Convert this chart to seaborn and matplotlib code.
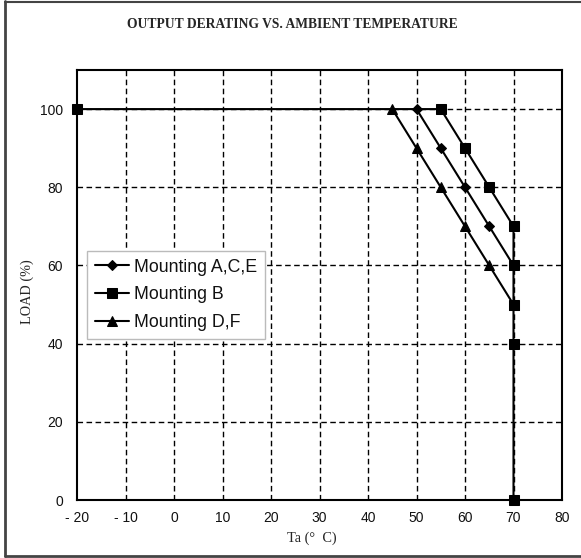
import matplotlib
matplotlib.use("Agg")
import matplotlib.pyplot as plt
import seaborn as sns
import pandas as pd
from matplotlib.lines import Line2D

# Data
ace_x = [50, 55, 60, 65, 70]
ace_y = [100, 90, 80, 70, 60]
b_x = [-20, 55, 60, 65, 70, 70, 70, 70, 70]
b_y = [100, 100, 90, 80, 70, 60, 50, 40, 0]
df_x = [45, 50, 55, 60, 65, 70]
df_y = [100, 90, 80, 70, 60, 50]
series_names = ["Mounting A,C,E", "Mounting B", "Mounting D,F"]
x_ticks = [-20, -10, 0, 10, 20, 30, 40, 50, 60, 70, 80]
x_tick_labels = ["- 20", "- 10", "0", "10", "20", "30", "40", "50", "60", "70", "80"]
y_ticks = [0, 20, 40, 60, 80, 100]
y_tick_labels = ["0", "20", "40", "60", "80", "100"]

sns.set_theme(style="white")
plt.rcParams['font.family'] = ['Liberation Sans', 'DejaVu Sans']

fig = plt.figure(figsize=(5.81, 5.58), dpi=100)
ax = fig.add_axes([77/581, 1-500/558, (562-77)/581, (500-70)/558])

series = [
    (ace_x, ace_y, series_names[0], "D", 5.5),
    (b_x, b_y, series_names[1], "s", 7.5),
    (df_x, df_y, series_names[2], "^", 7.5),
]
for xs, ys, name, mk, ms in series:
    d = pd.DataFrame({"x": xs, "y": ys})
    sns.lineplot(data=d, x="x", y="y", sort=False, estimator=None, ax=ax,
                 color="black", linewidth=1.5, marker=mk, markersize=ms,
                 markeredgecolor="black", markerfacecolor="black", label=name,
                 clip_on=False, zorder=3)

ax.set_xlim(-20, 80)
ax.set_ylim(0, 110)
ax.set_xticks(x_ticks)
ax.set_xticklabels(x_tick_labels)
ax.set_yticks(y_ticks)
ax.set_yticklabels(y_tick_labels)
ax.tick_params(axis="both", length=0, labelsize=10, colors="#111111")
ax.tick_params(axis="x", pad=8)
ax.tick_params(axis="y", pad=10)

for xv in x_ticks[1:-1]:
    ax.axvline(xv, color="black", linestyle=(0, (4, 2.5)), linewidth=1.0, zorder=1)
for yv in [20, 40, 60, 80, 100]:
    ax.axhline(yv, color="black", linestyle=(0, (4, 2.5)), linewidth=1.0, zorder=1)

for s in ax.spines.values():
    s.set_color("black")
    s.set_linewidth(1.5)

ax.set_xlabel("")
ax.set_ylabel("")
serif = ['Liberation Serif', 'DejaVu Serif']
fig.text(312/581, 1-538/558, "Ta (°  C)", ha="center", va="center", fontsize=10.3, family=serif)
fig.text(27/581, 1-292/558, "LOAD (%)", ha="center", va="center", rotation=90, fontsize=10.3, family=serif)
fig.text(292/581, 1-25/558, "OUTPUT DERATING VS. AMBIENT TEMPERATURE", ha="center", va="center",
         fontsize=9.75, fontweight="bold", family=serif)

leg = ax.legend(loc="lower left", bbox_to_anchor=((87-77)/485, (500-339)/430),
                borderaxespad=0, fontsize=12.8, frameon=True, fancybox=False,
                handlelength=1.9, handletextpad=0.3, labelspacing=0.6,
                borderpad=0.45, edgecolor="#bbbbbb", framealpha=1)
leg.get_frame().set_linewidth(1.0)
for t in leg.get_texts():
    t.set_color("#111111")

# outer frame
fig.add_artist(Line2D([5/581, 5/581], [1-1/558, 1-556/558], transform=fig.transFigure, color="#444444", linewidth=2))
fig.add_artist(Line2D([5/581, 1], [1-1.5/558, 1-1.5/558], transform=fig.transFigure, color="#444444", linewidth=1.5))
fig.add_artist(Line2D([5/581, 1], [1-556/558, 1-556/558], transform=fig.transFigure, color="#444444", linewidth=2))

fig.savefig("out.png", dpi=100)
